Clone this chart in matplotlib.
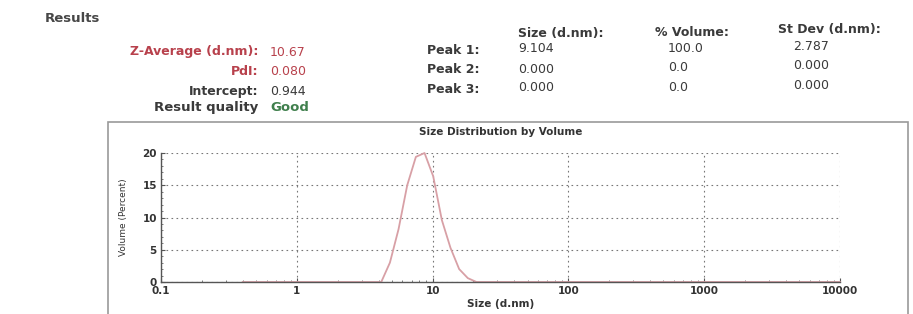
import matplotlib.pyplot as plt
from matplotlib.patches import Rectangle
from matplotlib.ticker import FixedLocator, LogLocator, MultipleLocator, NullFormatter

# size bins (d.nm) and volume percent
sizes = [0.4, 0.4632, 0.5365, 0.6213, 0.7195, 0.8332, 0.9649, 1.117, 1.294,
         1.499, 1.736, 2.01, 2.328, 2.696, 3.122, 3.615, 4.187, 4.849, 5.615,
         6.503, 7.531, 8.721, 10.1, 11.7, 13.54, 15.69, 18.17, 21.04, 24.36,
         28.21, 32.67, 37.84, 43.82, 50.75, 58.77, 68.06, 78.82, 91.28, 105.7,
         122.4, 141.8, 164.2, 190.1, 220.2, 255.0, 295.3, 342.0, 396.1, 458.7,
         531.2, 615.1, 712.4, 825.0, 955.4, 1106, 1281, 1484, 1718, 1990, 2305,
         2669, 3091, 3580, 4145, 4801, 5560, 6439, 7456, 8635, 10000]
volume = [0.0] * 17 + [3.0, 8.2, 15.0, 19.4, 20.0, 16.4, 9.6, 5.3, 2.0, 0.6,
                       0.0] + [0.0] * 42

x_ticks = [0.1, 1, 10, 100, 1000, 10000]
x_tick_labels = ["0.1", "1", "10", "100", "1000", "10000"]
y_ticks = [0, 5, 10, 15, 20]

left_labels = ["Z-Average (d.nm):", "PdI:", "Intercept:", "Result quality"]
left_values = ["10.67", "0.080", "0.944", "Good"]
peak_labels = ["Peak 1:", "Peak 2:", "Peak 3:"]
peak_headers = ["Size (d.nm):", "% Volume:", "St Dev (d.nm):"]
peak_size = ["9.104", "0.000", "0.000"]
peak_volume = ["100.0", "0.0", "0.0"]
peak_stdev = ["2.787", "0.000", "0.000"]

W, H = 913, 314
RED = "#b8414c"
DARK = "#3a3a3a"
GREEN = "#3f7f4c"
FS = 9

plt.rcParams["font.family"] = ["DejaVu Sans"]
fig = plt.figure(figsize=(W / 100, H / 100), dpi=100)


def fx(px):
    return px / W


def fy(py):
    return 1 - py / H


# header block
fig.text(fx(45), fy(18), "Results", fontsize=9.5, fontweight="bold",
         color="#474747", va="center")
left_colors = [(RED, RED), (RED, RED), (DARK, DARK), (DARK, GREEN)]
left_rows = [52, 72, 91, 108]
for i, (lab, val) in enumerate(zip(left_labels, left_values)):
    lc, vc = left_colors[i]
    fs = FS + 0.5 if i == 3 else FS
    fig.text(fx(258), fy(left_rows[i]), lab, fontsize=fs, fontweight="bold",
             color=lc, ha="right", va="center")
    fig.text(fx(270), fy(left_rows[i]), val, fontsize=fs,
             fontweight="bold" if i == 3 else "normal", color=vc,
             va="center")

peak_rows = [50, 70, 89]
for i, lab in enumerate(peak_labels):
    fig.text(fx(427), fy(peak_rows[i]), lab, fontsize=FS, fontweight="bold",
             color=DARK, va="center")
    fig.text(fx(518), fy(peak_rows[i] - 1), peak_size[i], fontsize=FS,
             color=DARK, va="center")
    fig.text(fx(668), fy(peak_rows[i] - 2), peak_volume[i], fontsize=FS,
             color=DARK, va="center")
    fig.text(fx(793), fy(peak_rows[i] - 4), peak_stdev[i], fontsize=FS,
             color=DARK, va="center")

header_x = [518, 655, 778]
header_y = [33, 32, 30]
for hx, hy, h in zip(header_x, header_y, peak_headers):
    fig.text(fx(hx), fy(hy), h, fontsize=FS, fontweight="bold", color=DARK,
             va="center")

# outer frame of the chart panel
fig.patches.append(Rectangle((fx(108), fy(318)), fx(908) - fx(108),
                             fy(122) - fy(318), transform=fig.transFigure,
                             fill=False, edgecolor="#9a9a9a", linewidth=1.2))

ax = fig.add_axes([fx(161), fy(282), fx(840) - fx(161), fy(153) - fy(282)])
ax.plot(sizes, volume, color="#d8a0a6", linewidth=1.3, clip_on=False)

ax.set_xscale("log")
ax.set_xlim(0.1, 10000)
ax.set_ylim(0, 20)
ax.xaxis.set_major_locator(FixedLocator(x_ticks))
ax.set_xticklabels(x_tick_labels)
ax.xaxis.set_minor_locator(LogLocator(base=10, subs=range(2, 10)))
ax.xaxis.set_minor_formatter(NullFormatter())
ax.yaxis.set_major_locator(FixedLocator(y_ticks))
ax.yaxis.set_minor_locator(MultipleLocator(1))

ax.grid(True, which="major", linestyle=(0, (1.5, 3)), color="#777777",
        linewidth=0.8)
for side in ("top", "right"):
    ax.spines[side].set_visible(False)
for side in ("left", "bottom"):
    ax.spines[side].set_color("#555555")
    ax.spines[side].set_linewidth(1.0)

ax.tick_params(which="major", direction="in", length=3, color="#555555",
               labelsize=7.5, labelcolor="#333333", pad=3)
ax.tick_params(which="minor", direction="in", length=1.5, color="#666666")
for lbl in ax.get_xticklabels() + ax.get_yticklabels():
    lbl.set_fontweight("bold")

ax.set_title("Size Distribution by Volume", fontsize=7.5, fontweight="bold",
             color="#333333", pad=13)
ax.set_xlabel("Size (d.nm)", fontsize=7.5, fontweight="bold",
              color="#333333", labelpad=2)
ax.set_ylabel("Volume (Percent)", fontsize=6.5, color="#333333", labelpad=10)

fig.savefig("out.png", dpi=100)
